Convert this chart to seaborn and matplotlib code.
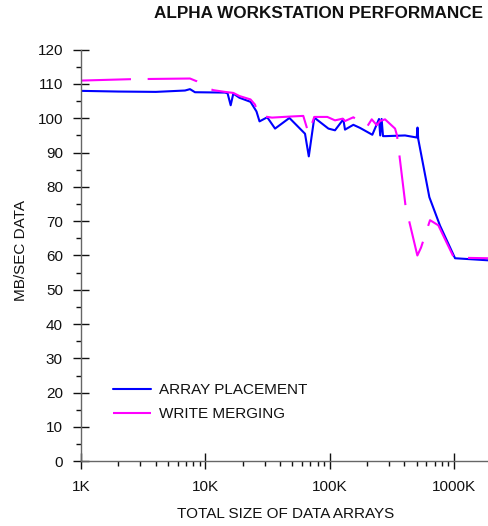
import matplotlib
matplotlib.use("Agg")
import matplotlib.pyplot as plt
import seaborn as sns
import pandas as pd
from matplotlib.ticker import FixedLocator, MultipleLocator, LogLocator, NullFormatter

# ---- data (array size in KB, MB/sec) ----
ap_size = [1.0, 2.0, 4.0, 6.87, 7.53, 8.26, 14.4, 15.1, 16.0, 16.8, 18.8, 23.1, 25.8, 27.3,
           31.5, 36.4, 47.5, 63.4, 68.0, 75.3, 97.8, 110.5, 128.9, 133.0, 155.2, 175.7,
           220.6, 249.7, 255.3, 262.0, 268.9, 282.7, 404.3, 502.0, 509.5, 516.1,
           634.5, 773.0, 1021.0, 1879.0]
ap_rate = [108.0, 107.8, 107.7, 108.1, 108.5, 107.6, 107.5, 107.3, 103.8, 107.2, 106.0, 104.8, 102.0, 99.1,
           100.3, 97.0, 100.1, 95.5, 88.9, 100.2, 97.0, 96.5, 99.7, 96.7, 98.1, 97.2,
           95.2, 99.8, 95.0, 99.8, 94.8, 94.8, 95.0, 94.4, 97.3, 94.0,
           77.0, 68.7, 59.2, 58.6]

wm_size = [1.0, 2.48, 7.53, 8.53, 10.0, 11.6, 14.4, 16.8, 18.8, 23.1, 25.1, 26.8,
           34.4, 47.5, 61.4, 67.7, 75.3, 95.8, 110.5, 127.5, 133.0, 155.2,
           198.9, 218.2, 239.3, 254.4, 279.1, 336.1, 348.5, 408.0, 508.0, 543.6,
           642.3, 749.1, 1011.0, 1306.0, 1879.0]
wm_rate = [111.0, 111.4, 111.6, 110.8, 109.0, 108.2, 107.7, 107.4, 106.5, 105.5, 104.0, 100.8,
           100.2, 100.5, 100.7, 95.6, 100.4, 100.4, 99.4, 99.9, 99.2, 100.3,
           97.4, 99.7, 98.0, 99.2, 99.7, 97.0, 95.0, 74.5, 60.0, 62.3,
           70.3, 68.8, 59.0, 59.3, 59.2]

series_names = ["ARRAY PLACEMENT", "WRITE MERGING"]
series_colors = ["#0000FF", "#FF00FF"]
x_ticks = [1, 10, 100, 1000]
x_tick_labels = ["1K", "10K", "100K", "1000K"]
y_ticks = list(range(0, 121, 10))

df = pd.concat([
    pd.DataFrame({"size": ap_size, "rate": ap_rate, "series": series_names[0]}),
    pd.DataFrame({"size": wm_size, "rate": wm_rate, "series": series_names[1]}),
], ignore_index=True)

sns.set_theme(style="ticks")
plt.rcParams["font.family"] = ["Liberation Sans", "DejaVu Sans"]
plt.rcParams["lines.scale_dashes"] = False

fig = plt.figure(figsize=(4.88, 5.26), dpi=100)
ax = fig.add_axes([81 / 488, 64.7 / 526, (488 - 81) / 488, (461.3 - 49.7) / 526])

sns.lineplot(data=df, x="size", y="rate", hue="series", style="series",
             hue_order=series_names, style_order=series_names,
             palette=dict(zip(series_names, series_colors)),
             dashes={series_names[0]: "", series_names[1]: (36, 12)},
             sort=False, estimator=None, linewidth=1.5, ax=ax, legend=False)

ax.set_xscale("log")
ax.set_xlim(1, 1880)
ax.set_ylim(0, 120)
ax.xaxis.set_major_locator(FixedLocator(x_ticks))
ax.set_xticklabels(x_tick_labels)
ax.xaxis.set_minor_locator(LogLocator(base=10, subs=range(2, 10)))
ax.xaxis.set_minor_formatter(NullFormatter())
ax.yaxis.set_major_locator(FixedLocator(y_ticks))
ax.yaxis.set_minor_locator(MultipleLocator(5))
ax.set_xlabel("")
ax.set_ylabel("")

for s in ["top", "right"]:
    ax.spines[s].set_visible(False)
for s in ["left", "bottom"]:
    ax.spines[s].set_color("#666666")
    ax.spines[s].set_linewidth(1.0)

ax.tick_params(axis="both", which="major", direction="inout", color="#111111",
               labelcolor="#111111", labelsize=11, width=1.0)
ax.tick_params(axis="y", which="major", length=12, pad=7)
ax.tick_params(axis="x", which="major", length=11, pad=8)
ax.tick_params(axis="both", which="minor", direction="out", length=3.5,
               width=1.0, color="#111111")

leg = ax.legend(ax.get_lines()[:2], series_names, loc="upper left",
                bbox_to_anchor=(113 / 488, 1 - 383.5 / 526), bbox_transform=fig.transFigure,
                frameon=False, fontsize=11, handlelength=2.47, handletextpad=0.53,
                labelspacing=0.62, borderpad=0, borderaxespad=0)
for t in leg.get_texts():
    t.set_color("#111111")

fig.text(482.7 / 488, 1 - 18.3 / 526, "ALPHA WORKSTATION PERFORMANCE", ha="right",
         va="baseline", fontsize=12.35, fontweight="bold", color="#111111")
fig.text(286 / 488, 1 - 518 / 526, "TOTAL SIZE OF DATA ARRAYS", ha="center",
         va="baseline", fontsize=11, color="#111111")
fig.text(21.5 / 488, 1 - 250.8 / 526, "MB/SEC DATA", ha="center", va="center",
         rotation=90, fontsize=11, color="#111111")

fig.savefig("out.png", dpi=100)
